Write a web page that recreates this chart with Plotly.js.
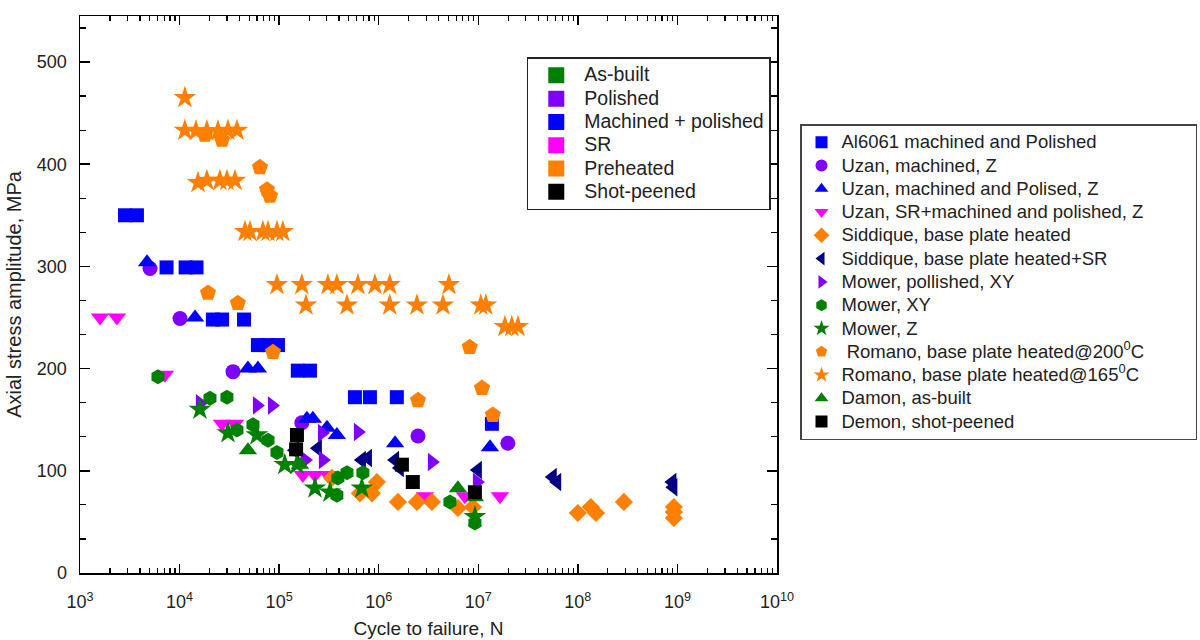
<!DOCTYPE html>
<html>
<head>
<meta charset="utf-8">
<script src="https://cdn.plot.ly/plotly-3.0.1.min.js"></script>
<style>html,body{margin:0;padding:0;background:#fff;}#chart{width:1200px;height:640px;}</style>
</head>
<body>
<div id="chart"></div>
<script>
// ---- data ----
const al6061X = [2830, 3730, 7400, 11500, 14800, 21600, 26700, 44400, 61200, 77300, 97300, 154000, 204000, 577000, 816000, 1520000, 13700000];
const al6061Y = [350, 350, 299, 299, 299, 248, 248, 248, 223, 223, 223, 198, 198, 172, 172, 172, 146];

const uzanMachX = [5050, 10100, 34400, 169000, 2480000, 19800000];
const uzanMachY = [298, 249, 197, 147, 134, 127];

const uzanPolX = [4710, 14300, 48600, 61200, 190000, 218000, 302000, 380000, 1460000, 13100000];
const uzanPolY = [304, 250, 200, 200, 151, 151, 142, 135, 127, 123];

const uzanSRX = [1590, 2350, 7130, 26700, 36000, 173000, 229000, 309000, 2910000, 7330000, 16500000];
const uzanSRY = [250, 250, 194, 146, 146, 96, 96, 96, 75, 75, 75];

const sidHeatX = [339000, 647000, 855000, 959000, 1560000, 2420000, 3420000, 6240000, 8830000, 100000000, 135000000, 152000000, 290000000, 920000000, 920000000, 920000000];
const sidHeatY = [93, 78, 78, 89, 69.5, 69.5, 69.5, 63.6, 64.6, 58.7, 64.6, 58.7, 69.5, 64.6, 59.7, 53.8];

const sidSRX = [144000, 245000, 677000, 779000, 1460000, 1630000, 9900000, 56000000, 62000000, 890000000, 910000000];
const sidSRY = [120, 122, 110.6, 112.5, 110.6, 102.7, 100.8, 94, 89, 89, 84];

const mowPolX = [16000, 59800, 84700, 182000, 269000, 275000, 618000, 3420000, 9680000];
const mowPolY = [166, 164, 164, 110.6, 137, 110.6, 138, 108.6, 89];

const mowXYX = [6070, 20200, 29900, 37700, 54600, 77300, 95100, 389000, 480000, 380000, 693000, 5190000, 9250000];
const mowXYY = [192, 171, 172, 140, 145, 130, 118, 93, 98, 76, 98, 69.5, 49];

const mowZX = [16000, 30600, 59800, 114000, 151000, 229000, 324000, 677000, 9250000];
const mowZY = [160, 137, 135, 106, 106, 83, 79, 83, 55];

const rom200X = [18000, 26700, 64100, 75500, 80900, 19300, 38500, 86700, 8200000, 2480000, 10900000, 14000000];
const rom200Y = [428.6, 423.7, 397, 375, 369, 274, 264, 216, 221, 169, 181, 154.6];

const rom165X = [11300,
  11300, 14600, 18800, 24300, 30600, 37700,
  15300, 18800, 25400, 29900, 36000,
  45400, 50900, 68700, 77300, 95100, 109000,
  95100, 169000, 309000, 380000, 618000, 916000, 1290000, 5070000,
  186000, 480000, 1290000, 2420000, 4420000, 10600000, 11900000,
  18500000, 21700000, 25000000];
const rom165Y = [465,
  433, 432.5, 432.5, 432.5, 433, 433,
  382, 384, 384, 384, 384,
  334, 334, 334, 334, 334, 334,
  282, 282, 282, 282, 282, 282, 282, 282,
  262, 262, 262, 262, 262, 262, 262,
  241, 241, 241];

const damonX = [48600, 162000, 6240000, 9250000];
const damonY = [120, 106, 83, 74];

const demonX = [151000, 148000, 1710000, 2200000, 9250000];
const demonY = [135, 121, 106, 89, 79];

const xTickVals = [1e3, 1e4, 1e5, 1e6, 1e7, 1e8, 1e9, 1e10];
const xTickText = ['10<sup>3</sup>', '10<sup>4</sup>', '10<sup>5</sup>', '10<sup>6</sup>', '10<sup>7</sup>', '10<sup>8</sup>', '10<sup>9</sup>', '10<sup>10</sup>'];
const yTickVals = [0, 100, 200, 300, 400, 500];

const seriesNames = [
  'Al6061 machined and Polished',
  'Uzan, machined, Z',
  'Uzan, machined and Polised, Z',
  'Uzan, SR+machined and polished, Z',
  'Siddique, base plate heated',
  'Siddique, base plate heated+SR',
  'Mower, pollished, XY',
  'Mower, XY',
  'Mower, Z',
  '&nbsp;Romano, base plate heated@200<sup>0</sup>C',
  'Romano, base plate heated@165<sup>0</sup>C',
  'Damon, as-built',
  'Demon, shot-peened'
];

const groupNames = ['As-built', 'Polished', 'Machined + polished', 'SR', 'Preheated', 'Shot-peened'];
const groupColors = ['#008000', '#8000ff', '#0000ff', '#ff00ff', '#ff8000', '#000000'];

// ---- styling ----
const GREEN = '#008000', PURPLE = '#8000ff', BLUE = '#0000ff', MAGENTA = '#ff00ff',
      ORANGE = '#ff8000', NAVY = '#000080', BLACK = '#000000';

const seriesData = [
  [al6061X, al6061Y, 'square', BLUE, 14],
  [uzanMachX, uzanMachY, 'circle', PURPLE, 15],
  [uzanPolX, uzanPolY, 'triangle-up', BLUE, 16],
  [uzanSRX, uzanSRY, 'triangle-down', MAGENTA, 16],
  [sidHeatX, sidHeatY, 'diamond', ORANGE, 14],
  [sidSRX, sidSRY, 'triangle-left', NAVY, 16],
  [mowPolX, mowPolY, 'triangle-right', PURPLE, 16],
  [mowXYX, mowXYY, 'hexagon', GREEN, 15],
  [mowZX, mowZY, 'star', GREEN, 17],
  [rom200X, rom200Y, 'pentagon', ORANGE, 17],
  [rom165X, rom165Y, 'star', ORANGE, 17],
  [damonX, damonY, 'triangle-up', GREEN, 16],
  [demonX, demonY, 'square', BLACK, 14]
];

const LEG1_TEXT = 18.5, LEG2_TEXT = 19.5;
// invisible padding so the first legend box is as wide as in the reference
const LEG1_PAD = '&nbsp;'.repeat(9);

const traces = seriesData.map((s, i) => ({
  x: s[0], y: s[1],
  name: '<span style="font-size:' + LEG1_TEXT + 'px">' + seriesNames[i] + (i === 3 ? LEG1_PAD : '') + '</span>',
  type: 'scatter', mode: 'markers',
  marker: {symbol: s[2], color: s[3], size: s[4], line: {width: 0}},
  legend: 'legend', showlegend: true
}));

groupNames.forEach((g, i) => {
  traces.push({
    x: [null], y: [null],
    name: '<span style="font-size:' + LEG2_TEXT + 'px">' + g + '</span>',
    type: 'scatter', mode: 'markers',
    marker: {symbol: 'square', color: groupColors[i], size: 20},
    legend: 'legend2', showlegend: true, hoverinfo: 'skip'
  });
});

const FONT = 'Liberation Sans, Arial, sans-serif';

const layout = {
  width: 1200, height: 640,
  margin: {l: 80, r: 423, t: 16, b: 67, autoexpand: false},
  paper_bgcolor: '#fff', plot_bgcolor: '#fff',
  font: {family: FONT, color: '#222', size: 18},
  showlegend: true,
  xaxis: {
    type: 'log', range: [3, 10],
    tickmode: 'array', tickvals: xTickVals, ticktext: xTickText,
    showline: true, linecolor: '#000', linewidth: 1.5, mirror: 'allticks',
    ticks: 'inside', ticklen: 9, tickwidth: 1.5, tickcolor: '#000',
    minor: {ticks: 'inside', ticklen: 5, tickwidth: 1.2, dtick: 'D1', tickcolor: '#000', showgrid: false},
    showgrid: false, zeroline: false, automargin: false,
    tickfont: {size: 18, family: FONT, color: '#222'},
    ticklabelstandoff: 12,
    title: {text: 'Cycle to failure, N', font: {size: 19, family: FONT, color: '#222'}, standoff: 10}
  },
  yaxis: {
    range: [0, 545], tickmode: 'array', tickvals: yTickVals,
    showline: true, linecolor: '#000', linewidth: 1.5, mirror: 'allticks',
    ticks: 'inside', ticklen: 10, tickwidth: 1.5, tickcolor: '#000',
    minor: {ticks: 'inside', ticklen: 6, tickwidth: 1.2, dtick: 100 / 3, tick0: 0, tickcolor: '#000', showgrid: false},
    showgrid: false, zeroline: false, automargin: false,
    tickfont: {size: 18, family: FONT, color: '#222'},
    ticklabelstandoff: 8,
    title: {text: 'Axial stress amplitude, MPa', font: {size: 20, family: FONT, color: '#222'}, standoff: 10}
  },
  legend: {
    x: 1.033, y: 0.806, xanchor: 'left', yanchor: 'top',
    bgcolor: '#fff', bordercolor: '#444', borderwidth: 1.5,
    font: {size: 15.6, family: FONT, color: '#222'},
    itemsizing: 'constant', tracegroupgap: 0
  },
  legend2: {
    x: 0.641, y: 0.926, xanchor: 'left', yanchor: 'top',
    bgcolor: '#fff', bordercolor: '#222', borderwidth: 1.5,
    font: {size: 15.6, family: FONT, color: '#222'},
    itemsizing: 'trace', itemwidth: 46, tracegroupgap: 0
  }
};

Plotly.newPlot('chart', traces, layout, {displayModeBar: false, staticPlot: true});
</script>
</body>
</html>
